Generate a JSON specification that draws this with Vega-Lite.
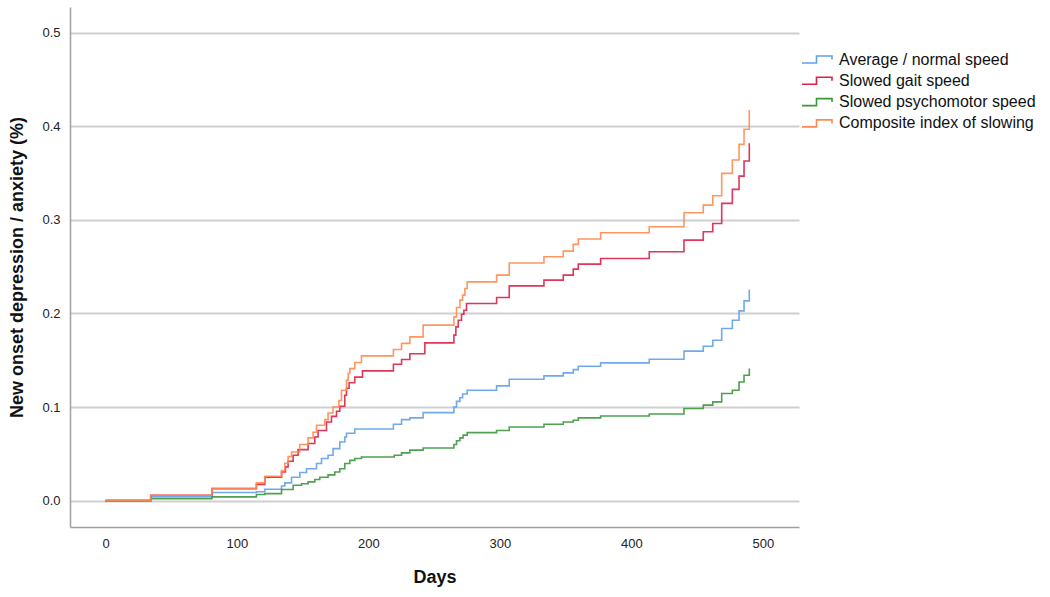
{
  "$schema": "https://vega.github.io/schema/vega-lite/v6.json",
  "width": 729,
  "height": 520,
  "autosize": {"type": "none"},
  "padding": {"left": 70, "top": 7, "right": 251, "bottom": 70},
  "background": "white",
  "config": {
    "view": {"stroke": null},
    "font": "Liberation Sans",
    "axis": {"labelFont": "Liberation Sans", "titleFont": "Liberation Sans", "labelColor": "#222", "titleColor": "#111"}
  },
  "datasets": {
    "km": [
      {"group": "Average / normal speed", "day": 0, "value": 0},
      {"group": "Average / normal speed", "day": 34.4, "value": 0.004},
      {"group": "Average / normal speed", "day": 81, "value": 0.0086},
      {"group": "Average / normal speed", "day": 114.8, "value": 0.0095},
      {"group": "Average / normal speed", "day": 121.2, "value": 0.0121},
      {"group": "Average / normal speed", "day": 133.9, "value": 0.0156},
      {"group": "Average / normal speed", "day": 136.4, "value": 0.019},
      {"group": "Average / normal speed", "day": 141.5, "value": 0.025},
      {"group": "Average / normal speed", "day": 147.8, "value": 0.03},
      {"group": "Average / normal speed", "day": 152.9, "value": 0.034},
      {"group": "Average / normal speed", "day": 160.5, "value": 0.0396},
      {"group": "Average / normal speed", "day": 164.3, "value": 0.045},
      {"group": "Average / normal speed", "day": 169.3, "value": 0.0484},
      {"group": "Average / normal speed", "day": 173.1, "value": 0.0556},
      {"group": "Average / normal speed", "day": 178.2, "value": 0.0627},
      {"group": "Average / normal speed", "day": 182, "value": 0.068},
      {"group": "Average / normal speed", "day": 183.3, "value": 0.072},
      {"group": "Average / normal speed", "day": 189.6, "value": 0.0765},
      {"group": "Average / normal speed", "day": 219, "value": 0.0816},
      {"group": "Average / normal speed", "day": 225.2, "value": 0.0866},
      {"group": "Average / normal speed", "day": 231.5, "value": 0.0884},
      {"group": "Average / normal speed", "day": 241.6, "value": 0.094},
      {"group": "Average / normal speed", "day": 265, "value": 0.1},
      {"group": "Average / normal speed", "day": 267, "value": 0.106},
      {"group": "Average / normal speed", "day": 269.6, "value": 0.11},
      {"group": "Average / normal speed", "day": 271.6, "value": 0.114},
      {"group": "Average / normal speed", "day": 275.1, "value": 0.118},
      {"group": "Average / normal speed", "day": 297.5, "value": 0.1226},
      {"group": "Average / normal speed", "day": 307.1, "value": 0.1297},
      {"group": "Average / normal speed", "day": 333.5, "value": 0.1333},
      {"group": "Average / normal speed", "day": 348.2, "value": 0.1365},
      {"group": "Average / normal speed", "day": 355.8, "value": 0.14},
      {"group": "Average / normal speed", "day": 359.6, "value": 0.1436},
      {"group": "Average / normal speed", "day": 376.6, "value": 0.1472},
      {"group": "Average / normal speed", "day": 413.6, "value": 0.151},
      {"group": "Average / normal speed", "day": 440, "value": 0.1597},
      {"group": "Average / normal speed", "day": 454.7, "value": 0.165},
      {"group": "Average / normal speed", "day": 461.9, "value": 0.1714},
      {"group": "Average / normal speed", "day": 468.7, "value": 0.184},
      {"group": "Average / normal speed", "day": 476.8, "value": 0.1928},
      {"group": "Average / normal speed", "day": 481.9, "value": 0.2028},
      {"group": "Average / normal speed", "day": 485.7, "value": 0.2135},
      {"group": "Average / normal speed", "day": 489.7, "value": 0.2257},

      {"group": "Slowed gait speed", "day": 0, "value": 0},
      {"group": "Slowed gait speed", "day": 34.4, "value": 0.0057},
      {"group": "Slowed gait speed", "day": 81, "value": 0.0128},
      {"group": "Slowed gait speed", "day": 114.8, "value": 0.0174},
      {"group": "Slowed gait speed", "day": 121.2, "value": 0.025},
      {"group": "Slowed gait speed", "day": 133.9, "value": 0.0306},
      {"group": "Slowed gait speed", "day": 136.9, "value": 0.036},
      {"group": "Slowed gait speed", "day": 138.9, "value": 0.042},
      {"group": "Slowed gait speed", "day": 142.7, "value": 0.0484},
      {"group": "Slowed gait speed", "day": 146.5, "value": 0.0545},
      {"group": "Slowed gait speed", "day": 154.1, "value": 0.061},
      {"group": "Slowed gait speed", "day": 159.2, "value": 0.068},
      {"group": "Slowed gait speed", "day": 161.7, "value": 0.075},
      {"group": "Slowed gait speed", "day": 168.1, "value": 0.084},
      {"group": "Slowed gait speed", "day": 171.9, "value": 0.09},
      {"group": "Slowed gait speed", "day": 175.7, "value": 0.0955},
      {"group": "Slowed gait speed", "day": 178.2, "value": 0.1008},
      {"group": "Slowed gait speed", "day": 182, "value": 0.1126},
      {"group": "Slowed gait speed", "day": 183.3, "value": 0.12},
      {"group": "Slowed gait speed", "day": 185.3, "value": 0.126},
      {"group": "Slowed gait speed", "day": 189.6, "value": 0.132},
      {"group": "Slowed gait speed", "day": 195.5, "value": 0.1386},
      {"group": "Slowed gait speed", "day": 219, "value": 0.1458},
      {"group": "Slowed gait speed", "day": 225.2, "value": 0.1508},
      {"group": "Slowed gait speed", "day": 231.5, "value": 0.157},
      {"group": "Slowed gait speed", "day": 242.9, "value": 0.1686},
      {"group": "Slowed gait speed", "day": 265, "value": 0.1768},
      {"group": "Slowed gait speed", "day": 266.5, "value": 0.1857},
      {"group": "Slowed gait speed", "day": 268.3, "value": 0.1928},
      {"group": "Slowed gait speed", "day": 270.8, "value": 0.1992},
      {"group": "Slowed gait speed", "day": 272.6, "value": 0.2035},
      {"group": "Slowed gait speed", "day": 274.6, "value": 0.2107},
      {"group": "Slowed gait speed", "day": 297.5, "value": 0.217},
      {"group": "Slowed gait speed", "day": 307.1, "value": 0.2295},
      {"group": "Slowed gait speed", "day": 333.5, "value": 0.2356},
      {"group": "Slowed gait speed", "day": 348.2, "value": 0.241},
      {"group": "Slowed gait speed", "day": 355.8, "value": 0.2474},
      {"group": "Slowed gait speed", "day": 359.6, "value": 0.2527},
      {"group": "Slowed gait speed", "day": 376.6, "value": 0.2588},
      {"group": "Slowed gait speed", "day": 413.6, "value": 0.2659},
      {"group": "Slowed gait speed", "day": 440, "value": 0.2784},
      {"group": "Slowed gait speed", "day": 454.7, "value": 0.2873},
      {"group": "Slowed gait speed", "day": 461.9, "value": 0.2962},
      {"group": "Slowed gait speed", "day": 468.7, "value": 0.3176},
      {"group": "Slowed gait speed", "day": 476.8, "value": 0.3326},
      {"group": "Slowed gait speed", "day": 481.9, "value": 0.3468},
      {"group": "Slowed gait speed", "day": 485.7, "value": 0.3629},
      {"group": "Slowed gait speed", "day": 489.7, "value": 0.3818},

      {"group": "Slowed psychomotor speed", "day": 0, "value": 0},
      {"group": "Slowed psychomotor speed", "day": 34.4, "value": 0.002},
      {"group": "Slowed psychomotor speed", "day": 81, "value": 0.004},
      {"group": "Slowed psychomotor speed", "day": 114.8, "value": 0.0065},
      {"group": "Slowed psychomotor speed", "day": 121.2, "value": 0.0075},
      {"group": "Slowed psychomotor speed", "day": 133.9, "value": 0.0118},
      {"group": "Slowed psychomotor speed", "day": 142.7, "value": 0.0164},
      {"group": "Slowed psychomotor speed", "day": 149.1, "value": 0.018},
      {"group": "Slowed psychomotor speed", "day": 154.1, "value": 0.02},
      {"group": "Slowed psychomotor speed", "day": 159.2, "value": 0.0225},
      {"group": "Slowed psychomotor speed", "day": 163, "value": 0.025},
      {"group": "Slowed psychomotor speed", "day": 169.3, "value": 0.0275},
      {"group": "Slowed psychomotor speed", "day": 174.4, "value": 0.0306},
      {"group": "Slowed psychomotor speed", "day": 178.2, "value": 0.034},
      {"group": "Slowed psychomotor speed", "day": 182, "value": 0.0396},
      {"group": "Slowed psychomotor speed", "day": 185.8, "value": 0.043},
      {"group": "Slowed psychomotor speed", "day": 189.6, "value": 0.045},
      {"group": "Slowed psychomotor speed", "day": 194.7, "value": 0.0466},
      {"group": "Slowed psychomotor speed", "day": 219.6, "value": 0.0484},
      {"group": "Slowed psychomotor speed", "day": 225.2, "value": 0.051},
      {"group": "Slowed psychomotor speed", "day": 231.5, "value": 0.054},
      {"group": "Slowed psychomotor speed", "day": 241.6, "value": 0.0563},
      {"group": "Slowed psychomotor speed", "day": 265, "value": 0.06},
      {"group": "Slowed psychomotor speed", "day": 267, "value": 0.064},
      {"group": "Slowed psychomotor speed", "day": 269.6, "value": 0.067},
      {"group": "Slowed psychomotor speed", "day": 272, "value": 0.07},
      {"group": "Slowed psychomotor speed", "day": 275.1, "value": 0.0727},
      {"group": "Slowed psychomotor speed", "day": 297.5, "value": 0.075},
      {"group": "Slowed psychomotor speed", "day": 307.1, "value": 0.0787},
      {"group": "Slowed psychomotor speed", "day": 333.5, "value": 0.0816},
      {"group": "Slowed psychomotor speed", "day": 348.2, "value": 0.084},
      {"group": "Slowed psychomotor speed", "day": 355.8, "value": 0.0859},
      {"group": "Slowed psychomotor speed", "day": 359.6, "value": 0.0884},
      {"group": "Slowed psychomotor speed", "day": 376.6, "value": 0.0905},
      {"group": "Slowed psychomotor speed", "day": 413.6, "value": 0.0926},
      {"group": "Slowed psychomotor speed", "day": 440, "value": 0.0984},
      {"group": "Slowed psychomotor speed", "day": 454.7, "value": 0.102},
      {"group": "Slowed psychomotor speed", "day": 461.9, "value": 0.1055},
      {"group": "Slowed psychomotor speed", "day": 468.7, "value": 0.1144},
      {"group": "Slowed psychomotor speed", "day": 476.8, "value": 0.118},
      {"group": "Slowed psychomotor speed", "day": 481.9, "value": 0.1268},
      {"group": "Slowed psychomotor speed", "day": 485.7, "value": 0.134},
      {"group": "Slowed psychomotor speed", "day": 489.7, "value": 0.1412},

      {"group": "Composite index of slowing", "day": 0, "value": 0},
      {"group": "Composite index of slowing", "day": 34.4, "value": 0.0057},
      {"group": "Composite index of slowing", "day": 81, "value": 0.0128},
      {"group": "Composite index of slowing", "day": 114.8, "value": 0.019},
      {"group": "Composite index of slowing", "day": 121.2, "value": 0.026},
      {"group": "Composite index of slowing", "day": 133.9, "value": 0.032},
      {"group": "Composite index of slowing", "day": 136.4, "value": 0.04},
      {"group": "Composite index of slowing", "day": 138.9, "value": 0.047},
      {"group": "Composite index of slowing", "day": 141.5, "value": 0.052},
      {"group": "Composite index of slowing", "day": 147.8, "value": 0.06},
      {"group": "Composite index of slowing", "day": 154.1, "value": 0.067},
      {"group": "Composite index of slowing", "day": 157.9, "value": 0.073},
      {"group": "Composite index of slowing", "day": 160.5, "value": 0.0805},
      {"group": "Composite index of slowing", "day": 166.8, "value": 0.0866},
      {"group": "Composite index of slowing", "day": 169.3, "value": 0.0937},
      {"group": "Composite index of slowing", "day": 173.1, "value": 0.1},
      {"group": "Composite index of slowing", "day": 177.5, "value": 0.107},
      {"group": "Composite index of slowing", "day": 179.5, "value": 0.118},
      {"group": "Composite index of slowing", "day": 183.3, "value": 0.1287},
      {"group": "Composite index of slowing", "day": 184.6, "value": 0.136},
      {"group": "Composite index of slowing", "day": 185.8, "value": 0.141},
      {"group": "Composite index of slowing", "day": 189.6, "value": 0.1476},
      {"group": "Composite index of slowing", "day": 194.7, "value": 0.1547},
      {"group": "Composite index of slowing", "day": 219, "value": 0.1615},
      {"group": "Composite index of slowing", "day": 225.2, "value": 0.168},
      {"group": "Composite index of slowing", "day": 231.5, "value": 0.175},
      {"group": "Composite index of slowing", "day": 241.6, "value": 0.1875},
      {"group": "Composite index of slowing", "day": 265, "value": 0.1964},
      {"group": "Composite index of slowing", "day": 267, "value": 0.2064},
      {"group": "Composite index of slowing", "day": 269.6, "value": 0.2142},
      {"group": "Composite index of slowing", "day": 271.6, "value": 0.2196},
      {"group": "Composite index of slowing", "day": 273.4, "value": 0.2267},
      {"group": "Composite index of slowing", "day": 275.1, "value": 0.2338},
      {"group": "Composite index of slowing", "day": 297.5, "value": 0.241},
      {"group": "Composite index of slowing", "day": 307.1, "value": 0.254},
      {"group": "Composite index of slowing", "day": 333.5, "value": 0.2606},
      {"group": "Composite index of slowing", "day": 348.2, "value": 0.2666},
      {"group": "Composite index of slowing", "day": 355.8, "value": 0.2738},
      {"group": "Composite index of slowing", "day": 359.6, "value": 0.2795},
      {"group": "Composite index of slowing", "day": 376.6, "value": 0.2862},
      {"group": "Composite index of slowing", "day": 413.6, "value": 0.2926},
      {"group": "Composite index of slowing", "day": 440, "value": 0.3076},
      {"group": "Composite index of slowing", "day": 454.7, "value": 0.3158},
      {"group": "Composite index of slowing", "day": 461.9, "value": 0.3258},
      {"group": "Composite index of slowing", "day": 468.7, "value": 0.3497},
      {"group": "Composite index of slowing", "day": 476.8, "value": 0.364},
      {"group": "Composite index of slowing", "day": 481.9, "value": 0.3807},
      {"group": "Composite index of slowing", "day": 485.7, "value": 0.3968},
      {"group": "Composite index of slowing", "day": 489.7, "value": 0.4174}
    ]
  },
  "data": {"name": "km"},
  "mark": {"type": "line", "interpolate": "step-after", "strokeWidth": 1.6, "strokeOpacity": 0.9},
  "encoding": {
    "x": {
      "field": "day", "type": "quantitative",
      "scale": {"domain": [-27, 527.5], "nice": false, "zero": false},
      "axis": {
        "values": [0, 100, 200, 300, 400, 500], "title": "Days", "grid": false, "ticks": false,
        "domainColor": "#a0a0a0", "domainWidth": 1.5, "labelFontSize": 13, "labelPadding": 10,
        "titleFontSize": 18, "titleFontWeight": "bold", "titlePadding": 18
      }
    },
    "y": {
      "field": "value", "type": "quantitative",
      "scale": {"domain": [-0.0282, 0.5275], "nice": false, "zero": false},
      "axis": {
        "values": [0, 0.1, 0.2, 0.3, 0.4, 0.5], "format": ".1f", "title": "New onset depression / anxiety (%)",
        "grid": true, "gridColor": "#d0d0d0", "gridWidth": 2, "ticks": false,
        "domainColor": "#a0a0a0", "domainWidth": 1.5, "labelFontSize": 13, "labelPadding": 10,
        "titleFontSize": 18, "titleFontWeight": "bold", "titlePadding": 15
      }
    },
    "color": {
      "field": "group", "type": "nominal",
      "scale": {
        "domain": ["Average / normal speed", "Slowed gait speed", "Slowed psychomotor speed", "Composite index of slowing"],
        "range": ["#62a0e8", "#dc2048", "#3c963c", "#ff8a50"]
      },
      "legend": {
        "orient": "none", "legendX": 739, "legendY": 44.5, "title": null,
        "symbolType": "M-3,0.7H-0.1V-0.7H3V0", "symbolSize": 100, "symbolStrokeWidth": 1.6,
        "symbolFillColor": "transparent", "labelFontSize": 16, "labelOffset": 14, "labelColor": "#111",
        "labelLimit": 400, "rowPadding": 5.3, "padding": 0
      }
    }
  }
}
